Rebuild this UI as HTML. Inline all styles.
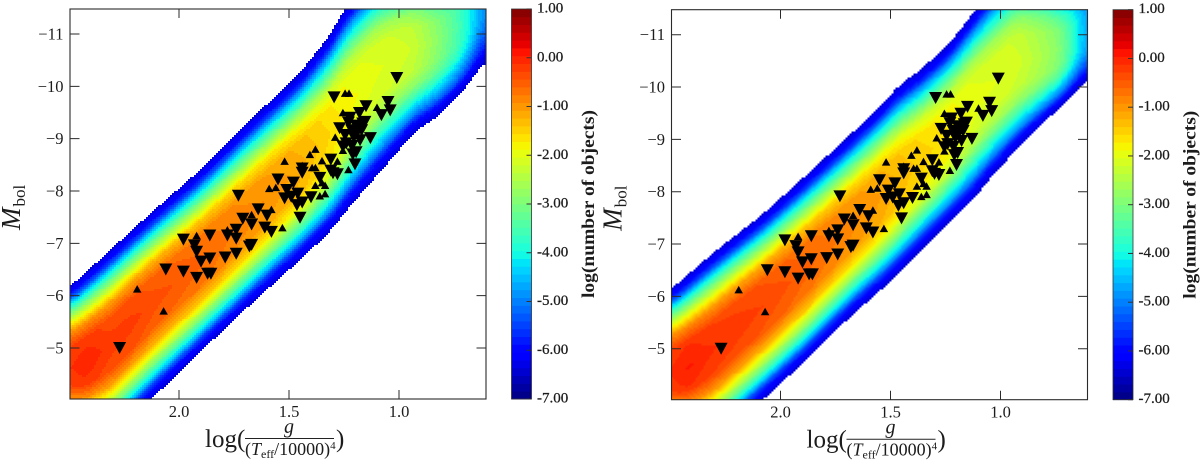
<!DOCTYPE html>
<html lang="en">
<head>
<meta charset="utf-8">
<title>Mbol vs flux-weighted gravity density maps</title>
<style>
html,body{margin:0;padding:0;background:#fff}
svg{display:block}
text{font-family:"Liberation Serif",serif;fill:#1c1c1c}
.tick-label{font-size:16.5px}
.cbar-label{font-size:15px;stroke:#1c1c1c;stroke-width:.25px}
.cbar-title{font-size:17.5px;font-weight:bold}
</style>
</head>
<body>
<svg id="figure" xmlns="http://www.w3.org/2000/svg" width="1200" height="460" viewBox="0 0 1200 460">
  <rect width="1200" height="460" fill="#fff"/>

  <g id="panel-left">
    <g class="heat"></g>
    <g class="marks"></g>
    <g class="axes"></g>
    <g class="cbar"></g>
    <text transform="translate(20,230) rotate(-90)" font-size="27" font-style="italic">M<tspan font-size="17" font-style="normal" dy="5" dx="1">bol</tspan></text>
    <g>
      <text x="205" y="447" font-size="25">log(</text>
      <text x="289" y="433" font-size="20" font-style="italic" text-anchor="middle">g</text>
      <line x1="245" x2="334" y1="438.5" y2="438.5" stroke="#222" stroke-width="1"/>
      <text x="245" y="455" font-size="18">(<tspan font-style="italic">T</tspan><tspan font-size="12" dy="3">eff</tspan><tspan dy="-3">/10000)</tspan><tspan font-size="11" dy="-6">4</tspan></text>
      <text x="336" y="447" font-size="25">)</text>
    </g>
    <text class="cbar-title" transform="translate(594,298) rotate(-90)" textLength="188" lengthAdjust="spacingAndGlyphs">log(number of objects)</text>
  </g>

  <g id="panel-right" transform="translate(601.5,0.7)">
    <g class="heat"></g>
    <g class="marks"></g>
    <g class="axes"></g>
    <g class="cbar"></g>
    <text transform="translate(20,230) rotate(-90)" font-size="27" font-style="italic">M<tspan font-size="17" font-style="normal" dy="5" dx="1">bol</tspan></text>
    <g>
      <text x="205" y="447" font-size="25">log(</text>
      <text x="289" y="433" font-size="20" font-style="italic" text-anchor="middle">g</text>
      <line x1="245" x2="334" y1="438.5" y2="438.5" stroke="#222" stroke-width="1"/>
      <text x="245" y="455" font-size="18">(<tspan font-style="italic">T</tspan><tspan font-size="12" dy="3">eff</tspan><tspan dy="-3">/10000)</tspan><tspan font-size="11" dy="-6">4</tspan></text>
      <text x="336" y="447" font-size="25">)</text>
    </g>
    <text class="cbar-title" transform="translate(594,298) rotate(-90)" textLength="188" lengthAdjust="spacingAndGlyphs">log(number of objects)</text>
  </g>
</svg>

<script>
// ---- axis ticks ----
var xTicks = [2.0, 1.5, 1.0];
var yTicks = [-11, -10, -9, -8, -7, -6, -5];
var cbarTicks = [1, 0, -1, -2, -3, -4, -5, -6, -7];

// ---- observed objects (log g/Teff^4, Mbol) ----
var downLogg = [2.27,2.06,1.98,1.92,1.98,1.93,1.92,1.90,1.86,1.86,1.87,1.855,1.79,1.74,1.73,1.78,1.74,1.74,1.67,1.68,1.71,1.67,1.64,1.60,1.61,1.58,1.55,1.48,1.52,1.49,1.46,1.44,1.45,1.40,1.31,1.31,1.30,1.28,1.44,1.44,1.20,1.195,1.21,1.255,1.24,1.205,1.19,1.19,1.165,1.23,1.27,1.18,1.15,1.13,1.08,1.05,1.04,1.01,1.295,1.195,1.215,1.17,1.223,1.155,1.245,1.36,1.464,1.51,1.214,1.177];
var downMbol = [-5.00,-6.50,-6.46,-6.34,-7.07,-6.96,-6.84,-6.65,-6.71,-7.15,-6.42,-6.42,-6.73,-6.80,-7.91,-7.15,-7.26,-7.09,-6.97,-6.94,-7.47,-7.36,-7.65,-7.53,-7.30,-7.22,-8.22,-8.16,-7.86,-7.89,-7.95,-7.78,-7.49,-7.88,-8.60,-8.39,-8.34,-8.32,-8.43,-8.35,-8.51,-8.74,-8.70,-8.85,-8.91,-9.03,-9.12,-9.22,-9.29,-9.31,-9.20,-9.49,-9.62,-9.01,-9.45,-9.70,-9.54,-10.16,-9.79,-9.25,-9.16,-9.16,-9.40,-9.32,-9.07,-8.25,-7.73,-8.02,-8.86,-8.97];
var upLogg = [2.19,2.07,1.92,1.78,1.67,1.58,1.59,1.53,1.56,1.245,1.227,1.255,1.29,1.255,1.10,1.38,1.405,1.52,1.35,1.28,1.23,1.38,1.395,1.44,1.38,1.35,1.336,1.36,1.336];
var upMbol = [-6.13,-5.71,-7.15,-7.26,-7.55,-7.65,-8.05,-7.30,-8.07,-9.87,-9.87,-9.50,-9.03,-8.78,-9.60,-8.80,-8.70,-8.57,-8.58,-8.57,-8.41,-8.45,-8.45,-8.49,-8.11,-8.16,-8.11,-7.91,-7.95];

// ---- cross-band profile: fraction of way to band edge, fraction of drop from peak ----
var profileDistance = [0,0.27,0.44,0.575,0.69,0.79,0.85,0.92,1];
var profileDrop = [0,0.03,0.14,0.32,0.5,0.68,0.83,0.94,1];

// ---- density ridge, left map: read along the band ----
var leftKnotLogg = [2.495,2.427,2.314,2.223,2.123,1.905,1.677,1.541,1.45,1.314,1.236,1.109,1.009,0.936,0.827,0.714,0.605];
var leftUpperEdge = [-6.17,-6.43,-6.87,-7.22,-7.60,-8.40,-9.36,-9.89,-10.26,-10.98,-11.57,-12.13,-12.22,-12.22,-12.22,-12.41,-12.99];
var leftRidgeLine = [-4.62,-4.68,-5.06,-5.44,-5.86,-6.64,-7.54,-8.10,-8.44,-9.07,-9.59,-10.27,-10.60,-10.73,-10.89,-11.17,-11.75];
var leftLowerEdge = [-3.24,-3.24,-3.24,-3.62,-4.03,-4.92,-5.82,-6.34,-6.68,-7.22,-7.64,-8.25,-8.73,-9.11,-9.41,-9.87,-10.50];
var leftPeak = [-0.15,0.05,-0.2,-0.2,-0.35,-0.55,-0.85,-1.0,-1.15,-1.55,-1.8,-2.0,-2.1,-2.2,-2.8,-3.6,-5];

// ---- density ridge, right map ----
var rightKnotLogg = [2.495,2.427,2.314,2.223,2.077,1.905,1.677,1.55,1.459,1.368,1.232,1.127,1.064,0.927,0.814,0.723,0.605];
var rightUpperEdge = [-6.13,-6.39,-6.80,-7.10,-7.58,-8.23,-9.11,-9.62,-10.04,-10.31,-10.83,-11.40,-11.75,-12.32,-12.30,-12.03,-12.22];
var rightRidgeLine = [-4.54,-4.60,-4.96,-5.31,-5.82,-6.45,-7.35,-7.87,-8.25,-8.59,-9.13,-9.70,-9.93,-10.47,-10.58,-10.73,-11.08];
var rightLowerEdge = [-3.15,-3.15,-3.15,-3.47,-4.03,-4.69,-5.63,-6.09,-6.45,-6.85,-7.41,-7.82,-8.17,-8.80,-9.28,-9.62,-10.14];
var rightPeak = [-0.1,0.1,-0.1,-0.15,-0.28,-0.5,-0.85,-1.05,-1.25,-1.45,-1.7,-1.95,-2.0,-2.1,-2.5,-2.9,-4.8];

var NS = 'http://www.w3.org/2000/svg';
var FRAME = {l:70, r:486, t:9, b:399};
var CBAR = {l:511.5, r:531.5};
var V_MIN = -7, V_MAX = 1, BANDS = 50;
var V_EDGE = -6.4;

function xScale(lg){ return 619 - 220 * lg; }
function xInvert(px){ return (619 - px) / 220; }
function yScale(m){ return 348 + (m + 5) * 52.33; }
function yInvert(px){ return (px - 348) / 52.33 - 5; }
function cbarScale(v){ return FRAME.b - (v - V_MIN) / (V_MAX - V_MIN) * (FRAME.b - FRAME.t); }

function ramp(pts, t){
  for (var i = 1; i < pts.length; i++) {
    if (t <= pts[i][0]) {
      var a = pts[i-1], b = pts[i];
      return a[1] + (b[1] - a[1]) * (t - a[0]) / (b[0] - a[0]);
    }
  }
  return pts[pts.length-1][1];
}
var JET_R = [[0,0],[.35,0],[.66,1],[.89,1],[1,.5]];
var JET_G = [[0,0],[.125,0],[.375,1],[.64,1],[.91,0],[1,0]];
var JET_B = [[0,.5],[.11,1],[.34,1],[.65,0],[1,0]];
function jet(t){
  return 'rgb(' + Math.round(255*ramp(JET_R,t)) + ',' + Math.round(255*ramp(JET_G,t)) + ',' + Math.round(255*ramp(JET_B,t)) + ')';
}
function make(tag, attrs){
  var el = document.createElementNS(NS, tag);
  for (var k in attrs) el.setAttribute(k, attrs[k]);
  return el;
}
function lerpKnots(axis, vals, lg){
  if (lg >= axis[0]) return vals[0];
  for (var i = 1; i < axis.length; i++) {
    if (lg >= axis[i]) {
      return vals[i-1] + (vals[i] - vals[i-1]) * (axis[i-1] - lg) / (axis[i-1] - axis[i]);
    }
  }
  return vals[vals.length-1];
}
function smooth(axis, vals, lg){
  var s = 0;
  for (var i = -3; i <= 3; i++) s += lerpKnots(axis, vals, lg + i * 0.012);
  return s / 7;
}
function dropAt(d){
  if (d >= 1) return 2;
  for (var i = 1; i < profileDistance.length; i++) {
    if (d <= profileDistance[i]) {
      return profileDrop[i-1] + (profileDrop[i] - profileDrop[i-1]) * (d - profileDistance[i-1]) / (profileDistance[i] - profileDistance[i-1]);
    }
  }
  return 2;
}

function drawHeat(group, axis, upper, ridge, lower, peak){
  var paths = [];
  for (var b = 0; b < BANDS; b++) paths.push('');
  var cols = [];
  var x, y;
  for (x = FRAME.l; x < FRAME.r; x += 2) {
    var lg = xInvert(x + 1);
    cols.push({x:x, u:smooth(axis,upper,lg), c:smooth(axis,ridge,lg), l:smooth(axis,lower,lg), p:smooth(axis,peak,lg)});
  }
  for (y = FRAME.t; y < FRAME.b; y += 2) {
    var m = yInvert(y + 1);
    var runBand = -1, runStart = 0;
    for (var i = 0; i <= cols.length; i++) {
      var band = -1;
      if (i < cols.length) {
        var c = cols[i];
        var h = m < c.c ? c.c - c.u : c.l - c.c;
        var d = Math.abs(m - c.c) / h;
        var f = dropAt(d);
        if (f <= 1) {
          var v = c.p - (c.p - V_EDGE) * f;
          band = Math.min(BANDS - 1, Math.floor((v - V_MIN) / (V_MAX - V_MIN) * BANDS));
        }
      }
      if (band !== runBand) {
        if (runBand >= 0) {
          var xe = FRAME.l + i * 2;
          paths[runBand] += 'M' + runStart + ' ' + y + 'H' + xe + 'V' + (y + 2) + 'H' + runStart + 'Z';
        }
        runBand = band;
        runStart = FRAME.l + i * 2;
      }
    }
  }
  for (var n = 0; n < BANDS; n++) {
    if (!paths[n]) continue;
    var p = make('path', {d:paths[n], fill:jet((n + 0.5) / BANDS), 'shape-rendering':'crispEdges'});
    
    
    group.appendChild(p);
  }
}

function triangle(cx, cy, w, h, pointsDown){
  var dir = pointsDown ? 1 : -1;
  return (cx - w/2) + ',' + (cy - dir*h/2) + ' ' + (cx + w/2) + ',' + (cy - dir*h/2) + ' ' + cx + ',' + (cy + dir*h/2);
}

function drawMarks(group){
  var i, t;
  for (i = 0; i < upLogg.length; i++) {
    t = make('polygon', {points:triangle(xScale(upLogg[i]), yScale(upMbol[i]), 8.5, 7.5, false), fill:'#000'});
    
    
    group.appendChild(t);
  }
  for (i = 0; i < downLogg.length; i++) {
    t = make('polygon', {points:triangle(xScale(downLogg[i]), yScale(downMbol[i]), 13, 12, true), fill:'#000'});
    
    
    group.appendChild(t);
  }
}

function drawAxes(group){
  var frame = make('rect', {x:FRAME.l, y:FRAME.t, width:FRAME.r-FRAME.l, height:FRAME.b-FRAME.t, fill:'none', stroke:'#2a2a2a', 'stroke-width':1.1});
  
  
  group.appendChild(frame);
  var i, px, tick, label;
  for (i = 0; i < xTicks.length; i++) {
    px = xScale(xTicks[i]);
    tick = make('path', {d:'M'+px+' '+FRAME.t+'V'+(FRAME.t+9)+'M'+px+' '+FRAME.b+'V'+(FRAME.b-9), stroke:'#2a2a2a', 'stroke-width':1, fill:'none'});
    
    
    group.appendChild(tick);
    label = make('text', {x:px, y:417, 'text-anchor':'middle', 'class':'tick-label'});
    
    
    label.textContent = xTicks[i].toFixed(1);
    group.appendChild(label);
  }
  for (i = 0; i < yTicks.length; i++) {
    px = yScale(yTicks[i]);
    tick = make('path', {d:'M'+FRAME.l+' '+px+'H'+(FRAME.l+9.5)+'M'+FRAME.r+' '+px+'H'+(FRAME.r-9.5), stroke:'#2a2a2a', 'stroke-width':1, fill:'none'});
    
    
    group.appendChild(tick);
    label = make('text', {x:63.5, y:px+5.5, 'text-anchor':'end', 'class':'tick-label'});
    
    
    label.textContent = '\u2212' + Math.abs(yTicks[i]);
    group.appendChild(label);
  }
}

function drawCbar(group){
  var i, r, tick, label, px;
  for (i = 0; i < BANDS; i++) {
    var lo = V_MIN + (V_MAX - V_MIN) * i / BANDS;
    var hi = V_MIN + (V_MAX - V_MIN) * (i + 1) / BANDS;
    r = make('rect', {x:CBAR.l, y:cbarScale(hi), width:CBAR.r-CBAR.l, height:cbarScale(lo)-cbarScale(hi)+0.4, fill:jet((i + 0.5) / BANDS)});
    
    
    group.appendChild(r);
  }
  r = make('rect', {x:CBAR.l, y:FRAME.t, width:CBAR.r-CBAR.l, height:FRAME.b-FRAME.t, fill:'none', stroke:'#333', 'stroke-width':0.8});
  
  
  group.appendChild(r);
  for (i = 0; i < cbarTicks.length; i++) {
    px = cbarScale(cbarTicks[i]);
    tick = make('line', {x1:CBAR.r-5, x2:CBAR.r, y1:px, y2:px, stroke:'#333', 'stroke-width':1});
    
    
    group.appendChild(tick);
    label = make('text', {x:537, y:px+3.5, 'class':'cbar-label'});
    
    
    label.textContent = cbarTicks[i].toFixed(2);
    group.appendChild(label);
  }
}

function drawPanel(id, axis, upper, ridge, lower, peak){
  var root = document.getElementById(id);
  drawHeat(root.querySelector('.heat'), axis, upper, ridge, lower, peak);
  drawMarks(root.querySelector('.marks'));
  drawAxes(root.querySelector('.axes'));
  drawCbar(root.querySelector('.cbar'));
}
drawPanel('panel-left', leftKnotLogg, leftUpperEdge, leftRidgeLine, leftLowerEdge, leftPeak);
drawPanel('panel-right', rightKnotLogg, rightUpperEdge, rightRidgeLine, rightLowerEdge, rightPeak);
</script>
</body>
</html>
